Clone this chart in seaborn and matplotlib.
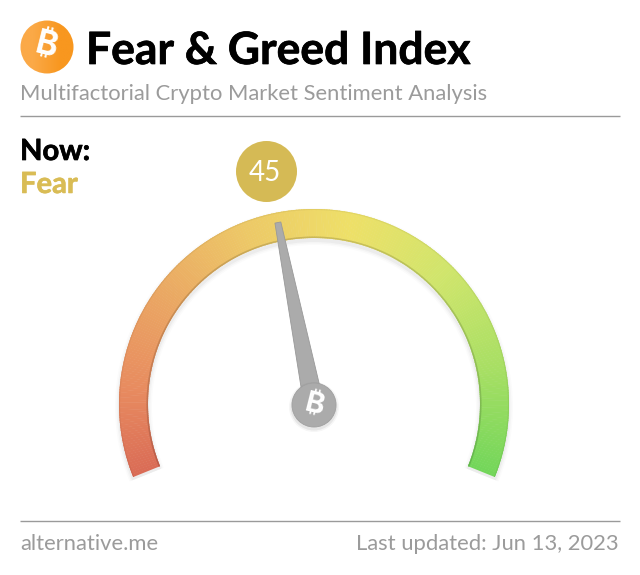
import numpy as np
import matplotlib
matplotlib.use("Agg")
import matplotlib.pyplot as plt
from matplotlib import font_manager as fm
from matplotlib import patheffects as pe
from matplotlib.patches import Wedge, Circle, Polygon
import seaborn as sns

# --- data
title = "Fear & Greed Index"
subtitle = "Multifactorial Crypto Market Sentiment Analysis"
now_label = "Now:"
sentiment = "Fear"
value = 45
scale_min, scale_max = 0, 100
site = "alternative.me"
updated = "Last updated: Jun 13, 2023"
stop_values = [0, 12, 25, 40, 55, 70, 85, 100]
stop_colors = ["#DA6C56", "#E88C60", "#EAA663", "#EDC867", "#EEE068", "#D0E56C", "#A8DF64", "#72D65A"]

sns.set_theme(style="white")
plt.rcParams["font.family"] = ["Lato", "DejaVu Sans"]


def coin_family():
    """Find an installed family with the bitcoin sign, preferring bold faces."""
    best = None
    for f in fm.fontManager.ttflist:
        try:
            has = fm.get_font(f.fname).get_char_index(0x20BF) != 0
        except Exception:
            continue
        if has:
            w = f.weight if isinstance(f.weight, int) else 700 if f.weight == "bold" else 400
            if best is None or w > best[1]:
                best = (f.name, w)
    return best[0] if best else "DejaVu Sans"


COIN_FAMILY = coin_family()

W, H = 640, 575
fig = plt.figure(figsize=(W / 100, H / 100), dpi=100, facecolor="white")
ax = fig.add_axes([0, 0, 1, 1])
ax.set_xlim(0, W)
ax.set_ylim(0, H)
ax.axis("off")


def Y(py):
    return H - py


def coin(x, y, size, zorder, rot):
    ax.text(x, y, "\u20bf", family=COIN_FAMILY, weight="bold", fontsize=size, color="white",
            rotation=rot, ha="center", va="center", zorder=zorder)


CX, CY = 314, Y(404)
HUB_Y = Y(405)
R_OUT, R_IN = 195, 166
OVER = 22
SPAN = 180 + 2 * OVER


def angle(v):
    return 180 + OVER - (v - scale_min) / (scale_max - scale_min) * SPAN


# colour ramp
n = 300
fine = np.linspace(scale_min, scale_max, n + 1)
rgb = np.array([matplotlib.colors.to_rgb(c) for c in stop_colors])
ramp = np.column_stack([np.interp(fine, stop_values, rgb[:, i]) for i in range(3)])

# soft shadow
for grow, alpha in [(4, .015), (2.5, .025), (1, .04)]:
    ax.add_patch(Wedge((CX, CY - 3), R_OUT + grow, angle(scale_max), angle(scale_min), width=R_OUT - R_IN + 2 * grow,
                       fc="k", ec="none", alpha=alpha, zorder=1))

for i in range(n):
    a1, a0 = angle(fine[i]), angle(fine[i + 1])
    a0x = a0 - .15 if i < n - 1 else a0
    c = ramp[i]
    ax.add_patch(Wedge((CX, CY), R_OUT, a0x, a1, width=R_OUT - R_IN, fc=c, ec="none", zorder=2))
    ax.add_patch(Wedge((CX, CY), R_IN + 1.5, a0x, a1, width=1.5, fc=c * .85, ec="none", zorder=3))
    ax.add_patch(Wedge((CX, CY), R_OUT, a0x, a1, width=1, fc=c * .95, ec="none", zorder=3))

# needle
th = np.radians(angle(value))
ux, uy = np.cos(th), np.sin(th)
px, py = -uy, ux
tip_r, tip_w, base_w = 186, 3, 10
pts = [(CX + px * base_w, HUB_Y + py * base_w), (CX + ux * tip_r + px * tip_w, HUB_Y + uy * tip_r + py * tip_w),
       (CX + ux * tip_r - px * tip_w, HUB_Y + uy * tip_r - py * tip_w), (CX - px * base_w, HUB_Y - py * base_w)]
ax.add_patch(Polygon(pts, closed=True, fc="#ABABAB", ec="#999999", lw=.6, zorder=5))

# hub
for grow, alpha in [(3, .04), (1.5, .07)]:
    ax.add_patch(Circle((CX, HUB_Y - 2), 22 + grow, fc="k", ec="none", alpha=alpha, zorder=5))
ax.add_patch(Circle((CX, HUB_Y), 22, fc="#ABABAB", ec="#A0A0A0", lw=.6, zorder=6))
coin(CX, HUB_Y - 1, 21, 7, -14)

# logo
img = ax.imshow(np.array([matplotlib.colors.to_rgb(c) for c in ["#FBA947", "#F8971F"]])[None, :, :],
                extent=(20, 74, Y(74), Y(20)), interpolation="bilinear", aspect="auto", zorder=2)
img.set_clip_path(Circle((47, Y(47)), 26.5, transform=ax.transData))
ax.set_xlim(0, W)
ax.set_ylim(0, H)
coin(46, Y(46), 24, 3, -14)

# value badge
sns.scatterplot(x=[265.5], y=[Y(170.5)], s=(61 * .72) ** 2, color="#D5BA55", linewidth=0, ax=ax, legend=False, zorder=4)
ax.text(265, Y(170.5), str(value), fontsize=20, color="white", weight="normal", ha="center", va="center_baseline", zorder=5)

# text
heavy = [pe.withStroke(linewidth=.5, foreground="black")]
gold = [pe.withStroke(linewidth=.4, foreground="#D9BC55")]
ax.text(86, Y(64), title, fontsize=32, weight="bold", color="black", ha="left", va="baseline", path_effects=heavy)
ax.text(20, Y(100), subtitle, fontsize=15.8, color="#9B9B9B", ha="left", va="baseline")
ax.text(20, Y(160), now_label, fontsize=21, weight="bold", color="black", ha="left", va="baseline", path_effects=heavy)
ax.text(20, Y(193), sentiment, fontsize=21, weight="bold", color="#D9BC55", ha="left", va="baseline", path_effects=gold)
ax.text(20, Y(550), site, fontsize=15.8, color="#9B9B9B", ha="left", va="baseline")
ax.text(619, Y(550), updated, fontsize=15.8, color="#9B9B9B", ha="right", va="baseline")

# rules
for yy in (115.5, 520.5):
    ax.plot([20, 620], [Y(yy), Y(yy)], color="#9A9A9A", lw=1, solid_capstyle="butt")

fig.savefig("out.png", dpi=100, facecolor="white")
